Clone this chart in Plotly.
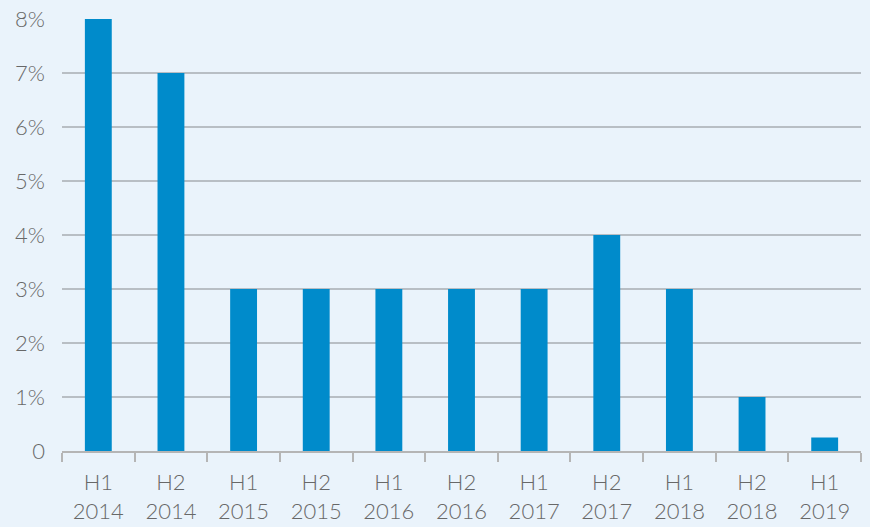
import plotly.graph_objects as go

halves = ["H1", "H2", "H1", "H2", "H1", "H2", "H1", "H2", "H1", "H2", "H1"]
years = ["2014", "2014", "2015", "2015", "2016", "2016", "2017", "2017", "2018", "2018", "2019"]
values = [8, 7, 3, 3, 3, 3, 3, 4, 3, 1, 0.25]
y_ticks = [0, 1, 2, 3, 4, 5, 6, 7, 8]
y_tick_labels = ["0", "1%", "2%", "3%", "4%", "5%", "6%", "7%", "8%"]

cats = [f"{h}<br>{y}" for h, y in zip(halves, years)]

bg = "#EAF3FB"
txt = "#686868"
fig = go.Figure(go.Bar(x=cats, y=values, marker=dict(color="#008BCB", line=dict(width=0)), width=0.37))

fig.update_layout(
    width=870, height=527,
    paper_bgcolor=bg, plot_bgcolor=bg,
    margin=dict(l=62, r=9, t=19, b=76),
    font=dict(family="Lato", size=22, color=txt, weight=300),
    showlegend=False,
)
fig.update_xaxes(
    type="category", tickson="boundaries", ticks="outside", ticklen=9, tickcolor="#b5b5b5", tickwidth=2,
    showline=True, linecolor="#b5b5b5", linewidth=2, showgrid=False, automargin=False,
    tickfont=dict(family="Lato", size=22, color=txt, weight=300), ticklabelstandoff=11,
)
fig.update_yaxes(
    range=[0, 8], tickvals=y_ticks, ticktext=y_tick_labels, automargin=False,
    showgrid=True, gridcolor="#b8bec4", gridwidth=1.5, zeroline=False,
    ticks="", ticklabelstandoff=16, tickfont=dict(family="Lato", size=22, color=txt, weight=300),
)
fig.write_html("out.html")
